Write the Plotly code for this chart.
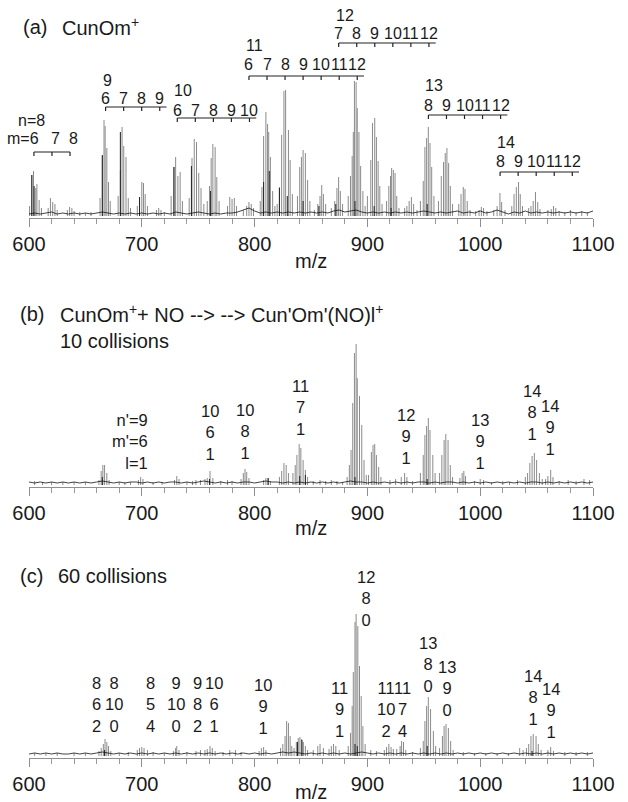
import plotly.graph_objects as go

# ---------------- DATA ----------------
# Panel (a): CunOm+ mass spectrum (grey sticks), m/z and relative intensity
a_mz = [600.5, 602.5, 604, 606, 607, 609, 611,
        617, 619, 621, 623, 625, 634, 636, 638, 640, 645, 650, 655,
        663, 665, 666.5, 667.5, 669, 670.5, 672,
        679, 681, 682.5, 684, 686, 688, 690,
        696, 698, 700, 701.5, 703, 705, 713, 715, 717, 720,
        726, 728.5, 730, 732, 734, 736,
        742, 744.5, 746.5, 748.5, 750.5, 752.5, 755,
        758, 760, 761.5, 763, 765, 766.5, 768.5,
        776, 778, 780, 782, 784, 790, 793, 795, 797, 799,
        805, 806.5, 808, 810, 811.5, 812.5, 814, 816, 818,
        820, 822, 824, 826, 827.5, 830, 831.5, 833.5,
        838, 840, 841.5, 843, 845, 847, 849,
        853, 856, 858, 859.5, 861, 863,
        868, 871, 873, 874.5, 876, 878,
        883, 885, 886.5, 887.5, 888.5, 890, 891, 892.5, 894, 896, 898,
        900, 903, 904.5, 906.5, 908, 909.5, 911, 913,
        917, 919, 920.5, 921.5, 923, 924.5, 926, 928,
        933, 935, 937, 939, 941, 944,
        947, 949.5, 951, 952.5, 954, 955.5, 957, 959,
        963, 965.5, 967.5, 969, 970.5, 972, 973.5, 975.5,
        981, 983, 985, 986.5, 988.5, 991,
        996, 999, 1001, 1003, 1006,
        1012, 1015, 1017.5, 1019, 1022,
        1028, 1030, 1032, 1034, 1035.5, 1037.5,
        1043, 1045, 1047, 1049, 1051, 1053,
        1060, 1063, 1065, 1067, 1070, 1075, 1080, 1085, 1090, 1095]
a_int = [10, 41, 45, 28, 32, 16, 8,
         8, 18, 14, 12, 6, 6, 9, 8, 5, 4, 3, 4,
         18, 60, 96, 90, 68, 34, 15,
         20, 46, 89, 70, 59, 18, 8,
         10, 19, 34, 33, 22, 10, 6, 8, 6, 4,
         20, 49, 59, 40, 44, 15,
         18, 58, 77, 74, 43, 28, 12,
         15, 30, 58, 72, 69, 39, 15,
         10, 19, 17, 18, 10, 6, 10, 14, 12, 8,
         15, 29, 80, 104, 92, 84, 59, 25, 10,
         12, 29, 81, 125, 126, 86, 56, 22,
         20, 49, 59, 66, 63, 36, 15,
         6, 12, 20, 31, 22, 12,
         8, 15, 28, 39, 25, 12,
         20, 40, 60, 84, 135, 134, 108, 84, 50, 25, 10,
         20, 56, 93, 98, 79, 55, 30, 12,
         15, 30, 40, 48, 46, 43, 20, 8,
         8, 10, 15, 19, 12, 6,
         15, 35, 69, 78, 89, 73, 49, 20,
         15, 40, 54, 63, 68, 53, 30, 12,
         12, 22, 29, 27, 15, 6,
         5, 6, 9, 8, 5,
         6, 10, 23, 14, 6,
         10, 22, 29, 34, 22, 10,
         8, 10, 15, 24, 14, 7,
         6, 7, 10, 8, 5, 4, 6, 4, 5, 4]
# black (second) spectrum sticks in panel (a)
a_blk_mz = [602.5, 604.5, 665, 681, 698, 728.5, 744, 761, 808, 813, 822, 829, 843, 857, 872, 889, 906, 921, 953]
a_blk_int = [41, 30, 61, 84, 19, 49, 50, 25, 34, 45, 28, 20, 15, 10, 12, 15, 10, 8, 12]

# Panel (b): 10 collisions
b_mz = [605, 612, 620, 630, 640, 650,
        662, 664, 665.5, 667, 669, 671, 680, 685, 690,
        697, 699, 701, 710, 718, 729, 731, 733, 740,
        745, 748, 752, 756, 758, 760.5, 763, 770, 776, 780,
        788, 790, 791.5, 793, 795, 808, 810, 812, 814,
        822, 824, 826, 828, 830,
        834, 836, 837.5, 839.5, 841, 843, 845, 847,
        852, 858, 863, 868, 873, 878,
        882, 884, 885.5, 887, 888.5, 890, 891, 893, 895, 897, 899,
        901, 903.5, 905, 906.5, 908, 910, 912,
        920, 925, 930, 933, 935, 940,
        947, 949.5, 951, 952.5, 954, 955.5, 958, 960,
        964, 966, 968, 969.5, 971.5, 973.5, 975.5,
        982, 984, 985.5, 987,
        995, 1000, 1003, 1010, 1020, 1026, 1033,
        1040, 1042, 1044, 1046, 1048, 1050, 1052.5, 1055,
        1058, 1060, 1062.5, 1064.5,
        1070, 1078, 1085, 1092, 1097]
b_int = [4, 3, 3, 3, 3, 3,
         5, 14, 20, 20, 12, 5, 3, 3, 3,
         5, 8, 6, 3, 3, 5, 9, 6, 3,
         4, 5, 5, 6, 7, 14, 7, 4, 5, 4,
         6, 12, 16, 13, 7, 5, 7, 7, 4,
         8, 14, 22, 20, 12,
         12, 20, 30, 41, 37, 25, 15, 8,
         4, 5, 4, 5, 4, 3,
         8, 20, 35, 82, 132, 141, 107, 89, 60, 25, 10,
         10, 33, 40, 41, 30, 18, 8,
         5, 6, 8, 12, 8, 4,
         12, 30, 50, 59, 67, 55, 30, 12,
         12, 30, 45, 51, 45, 20, 8,
         7, 12, 14, 9,
         4, 6, 5, 3, 4, 3, 5,
         8, 12, 22, 29, 32, 25, 12, 6,
         6, 9, 15, 8,
         4, 5, 4, 6, 5]
b_blk_mz = [665, 760, 812, 840, 845, 889, 953]
b_blk_int = [8, 6, 7, 9, 10, 8, 6]

# Panel (c): 60 collisions
c_mz = [605, 615, 625, 640, 650,
        662, 664, 665.9, 667.4, 669, 670.5, 672.5, 680, 688,
        696, 698, 700, 702, 705, 710,
        720, 728, 730, 731, 733,
        740, 748, 752, 756, 758, 760.5, 762.5, 765,
        772, 778, 783, 788, 804, 806, 808, 810,
        823, 825, 827, 828.4, 830, 831.5, 833,
        835, 837, 838.7, 840.2, 841.7, 843.2, 845, 847,
        852, 856, 858, 861, 866, 868, 870, 872, 875,
        883, 885, 886.5, 887.5, 889, 890, 891.5, 893, 894.5, 896, 898,
        903, 908, 915, 917, 919, 921, 923,
        926, 929, 930.3, 932, 934, 940,
        947, 949.5, 951, 952.5, 954, 956, 958.5, 960.5,
        964, 966.5, 968, 969.7, 971.8, 973.8, 976,
        985, 995, 1005, 1015, 1025,
        1035, 1038, 1041, 1043, 1045, 1047, 1049.5, 1051.5, 1054,
        1060, 1062.5, 1065, 1075, 1085, 1095]
c_int = [3, 3, 3, 3, 3,
         5, 8, 12, 17, 14, 10, 5, 3, 4,
         6, 8, 9, 8, 6, 4,
         3, 5, 8, 10, 6,
         4, 5, 6, 6, 7, 10, 8, 5,
         4, 6, 6, 4, 5, 8, 9, 6,
         8, 12, 20, 35, 33, 20, 10,
         8, 14, 18, 19, 17, 14, 10, 6,
         6, 10, 12, 8, 7, 10, 12, 10, 6,
         10, 23, 50, 84, 134, 142, 130, 90, 60, 30, 12,
         6, 5, 6, 9, 12, 9, 7,
         7, 10, 15, 14, 6, 4,
         8, 15, 35, 50, 59, 47, 25, 10,
         8, 20, 30, 32, 28, 15, 6,
         4, 3, 3, 3, 3,
         8, 6, 8, 12, 20, 22, 20, 12, 6,
         6, 9, 5, 4, 4, 4]
c_blk_mz = [667, 838, 842, 889, 891, 953, 1046]
c_blk_int = [6, 14, 16, 12, 10, 10, 5]

# Baseline noise (black trace), sampled every 5 m/z from 600 to 1100
noise_mz0, noise_step = 600, 5
a_noise = [2, 3, 2, 3, 4, 2, 3, 2, 3, 2, 3, 2, 3, 4, 3, 2, 3, 2, 3, 2,
           3, 2, 3, 2, 3, 2, 4, 3, 2, 3, 4, 3, 2, 3, 2, 3, 3, 4, 6, 8,
           5, 3, 4, 3, 4, 3, 4, 3, 4, 3, 4, 3, 4, 3, 5, 6, 4, 5, 6, 4,
           3, 4, 3, 4, 3, 4, 3, 4, 3, 4, 5, 4, 3, 4, 3, 4, 5, 3, 4, 3,
           5, 3, 4, 6, 4, 2, 4, 3, 5, 3, 4, 3, 4, 3, 4, 3, 4, 3, 4, 3, 5]
b_noise = [3, 2, 3, 2, 3, 2, 3, 2, 3, 2, 3, 2, 3, 4, 3, 2, 3, 2, 3, 3,
           2, 3, 2, 3, 2, 3, 3, 2, 3, 2, 3, 4, 3, 2, 3, 2, 3, 2, 3, 3,
           2, 3, 4, 3, 3, 2, 3, 2, 3, 2, 3, 2, 3, 2, 3, 2, 3, 4, 3, 3,
           2, 3, 2, 3, 2, 3, 2, 3, 2, 3, 3, 2, 3, 2, 3, 3, 2, 3, 2, 3,
           2, 3, 2, 3, 2, 3, 2, 3, 2, 3, 3, 2, 3, 2, 3, 2, 3, 2, 3, 2, 3]
c_noise = [2, 3, 2, 3, 2, 3, 2, 2, 3, 2, 3, 2, 3, 4, 3, 2, 3, 2, 3, 2,
           3, 2, 3, 2, 3, 2, 3, 2, 3, 2, 3, 2, 3, 2, 3, 2, 3, 2, 3, 2,
           3, 2, 3, 2, 3, 4, 3, 4, 3, 2, 3, 2, 3, 2, 3, 2, 3, 2, 3, 4,
           3, 2, 3, 2, 3, 2, 3, 2, 3, 2, 3, 2, 3, 2, 3, 2, 3, 2, 3, 2,
           3, 2, 3, 2, 3, 2, 3, 2, 3, 2, 3, 2, 3, 2, 3, 2, 3, 2, 3, 2, 3]

# Axis ticks
x_ticks = [600, 700, 800, 900, 1000, 1100]
x_tick_labels = ["600", "700", "800", "900", "1000", "1100"]

# Panel (a) cluster assignments CunOm+
a_groups_n = [8, 9, 10, 11, 12, 13, 14]
a_groups_m = [[6, 7, 8], [6, 7, 8, 9], [6, 7, 8, 9, 10], [6, 7, 8, 9, 10, 11, 12],
              [7, 8, 9, 10, 11, 12], [8, 9, 10, 11, 12], [8, 9, 10, 11, 12]]
# Panel (b) labels n', m', l  (m/z of label)
b_labels = [("10", "6", "1", 760.5), ("10", "8", "1", 791.5), ("11", "7", "1", 841),
            ("12", "9", "1", 934), ("13", "9", "1", 1000), ("14", "8", "1", 1046),
            ("14", "9", "1", 1062)]
# Panel (c) labels n', m', l
c_labels = [("8", "6", "2", 659.4), ("8", "10", "0", 675.4), ("8", "5", "4", 707.3),
            ("9", "10", "0", 730.3), ("9", "8", "2", 749.8), ("10", "6", "1", 764),
            ("10", "9", "1", 807), ("11", "9", "1", 875.7), ("11", "10", "2", 916.5),
            ("11", "7", "4", 930.7), ("12", "8", "0", 898.8), ("13", "8", "0", 953.7),
            ("13", "9", "0", 970.6), ("14", "8", "1", 1046.4), ("14", "9", "1", 1063.2)]

CU, OX = 63.546, 15.999  # average atomic masses

# ---------------- LAYOUT HELPERS (pixel positions) ----------------
W, H = 628, 802
FONT = "Liberation Sans, Arial, Helvetica, sans-serif"
TXT = "#1a1a1a"
GREY = "#8a8a8a"
GF = 16  # group label font in panel (a)


def py(p):
    return 1 - p / H


def pxp(p):
    return p / W


# panel y-axis domains in px (bottom = axis line) ; zero sits 2 px above axis
panels = [dict(top=5, bot=218), dict(top=270, bot=487), dict(top=540, bot=758)]

# label vertical pixel positions
a_label_px = [(120, 138, 152), (80, 98, 107), (90, 111, 118), (46, 64, 76),
              (15, 33, 43), (85, 105, 115), (143, 162, 172)]
b_label_mid_px = [433, 431, 407, 436, 441, 412, 427]
c_label_mid_px = [704, 704, 704, 704, 704, 704, 706, 709, 709, 709, 598, 664, 688, 697, 710]

fig = go.Figure()


def sticks(mz, inten, color, width, xa, ya):
    xs, ys = [], []
    for m, h in zip(mz, inten):
        xs += [m, m, None]
        ys += [0, h, None]
    fig.add_trace(go.Scatter(x=xs, y=ys, mode="lines", line=dict(color=color, width=width),
                             xaxis=xa, yaxis=ya, hoverinfo="skip", showlegend=False))


def noise(vals, xa, ya):
    xs = [noise_mz0 + i * noise_step for i in range(len(vals))]
    fig.add_trace(go.Scatter(x=xs, y=vals, mode="lines", line=dict(color="#111111", width=0.8),
                             xaxis=xa, yaxis=ya, hoverinfo="skip", showlegend=False))


sticks(a_mz, a_int, GREY, 1, "x", "y")
sticks(a_blk_mz, a_blk_int, "#222222", 1, "x", "y")
noise(a_noise, "x", "y")
sticks(b_mz, b_int, GREY, 1, "x2", "y2")
sticks(b_blk_mz, b_blk_int, "#222222", 1, "x2", "y2")
noise(b_noise, "x2", "y2")
sticks(c_mz, c_int, GREY, 1, "x3", "y3")
sticks(c_blk_mz, c_blk_int, "#222222", 1, "x3", "y3")
noise(c_noise, "x3", "y3")

ann = []

# ---- panel (a) brackets & labels ----
zero_a = panels[0]["bot"] - 2
bx, byy = [], []
for n, ms, (pn, pm, pb) in zip(a_groups_n, a_groups_m, a_label_px):
    pos = [n * CU + m * OX for m in ms]
    yb = zero_a - pb
    bx += [pos[0], pos[-1] + (0 if n == 8 else 6), None]
    byy += [yb, yb, None]
    for p in pos:
        bx += [p, p, None]
        byy += [yb, yb - 4, None]
    for i, (m, p) in enumerate(zip(ms, pos)):
        if n == 8:
            if i == 0:
                ann.append(dict(x=p + 6, y=py(pm), xref="x", yref="paper", text="m=" + str(m),
                                xanchor="right", yanchor="middle", showarrow=False,
                                font=dict(size=GF, family=FONT, color=TXT)))
            else:
                ann.append(dict(x=p + 3.5, y=py(pm), xref="x", yref="paper", text=str(m),
                                xanchor="center", yanchor="middle", showarrow=False,
                                font=dict(size=GF, family=FONT, color=TXT)))
        else:
            ann.append(dict(x=p, y=py(pm), xref="x", yref="paper", text=str(m),
                            xanchor="center", yanchor="middle", showarrow=False,
                            font=dict(size=GF, family=FONT, color=TXT)))
    if n == 8:
        ann.append(dict(x=pos[0] + 12, y=py(pn), xref="x", yref="paper", text="n=" + str(n),
                        xanchor="right", yanchor="middle", showarrow=False,
                        font=dict(size=GF, family=FONT, color=TXT)))
    else:
        ann.append(dict(x=pos[0] - 4.5, y=py(pn), xref="x", yref="paper", text=str(n),
                        xanchor="left", yanchor="middle", showarrow=False,
                        font=dict(size=GF, family=FONT, color=TXT)))
fig.add_trace(go.Scatter(x=bx, y=byy, mode="lines", line=dict(color="#222222", width=1.2),
                         xaxis="x", yaxis="y", hoverinfo="skip", showlegend=False))

# ---- panel (b) / (c) stacked labels ----
LBL = 16.5
ann.append(dict(x=707.3, y=py(441), xref="x2", yref="paper", text="n'=9<br>m'=6<br>l=1",
                xanchor="right", yanchor="middle", align="right", showarrow=False,
                font=dict(size=LBL, family=FONT, color=TXT)))
for (a1, a2, a3, xm), mid in zip(b_labels, b_label_mid_px):
    ann.append(dict(x=xm, y=py(mid), xref="x2", yref="paper", text=f"{a1}<br>{a2}<br>{a3}",
                    xanchor="center", yanchor="middle", align="center", showarrow=False,
                    font=dict(size=LBL, family=FONT, color=TXT)))
for (a1, a2, a3, xm), mid in zip(c_labels, c_label_mid_px):
    ann.append(dict(x=xm, y=py(mid), xref="x3", yref="paper", text=f"{a1}<br>{a2}<br>{a3}",
                    xanchor="center", yanchor="middle", align="center", showarrow=False,
                    font=dict(size=LBL, family=FONT, color=TXT)))

# ---- titles ----
TF = 20
titles = [("(a)", 21, 27), ("CunOm<sup>+</sup>", 60, 27),
          ("(b)", 18, 314), ("CunOm<sup>+</sup>+ NO --> --> Cun'Om'(NO)l<sup>+</sup>", 58, 314),
          ("10 collisions", 58, 341),
          ("(c)", 18, 576), ("60 collisions", 56, 576)]
for t, xp, yp in titles:
    ann.append(dict(x=pxp(xp), y=py(yp), xref="paper", yref="paper", text=t,
                    xanchor="left", yanchor="middle", showarrow=False,
                    font=dict(size=TF, family=FONT, color=TXT)))
for yp in [261, 528, 792]:
    ann.append(dict(x=pxp(311), y=py(yp), xref="paper", yref="paper", text="m/z",
                    xanchor="center", yanchor="middle", showarrow=False,
                    font=dict(size=20, family=FONT, color=TXT)))

xcommon = dict(range=[600, 1100], domain=[pxp(29), pxp(593)], showline=True, linecolor="#8f8f8f",
               linewidth=1, ticks="outside", ticklen=8, tickwidth=1, tickcolor="#8f8f8f",
               tickvals=x_ticks, ticktext=x_tick_labels, showgrid=False, zeroline=False,
               automargin=False,
               tickfont=dict(size=20, family=FONT, color=TXT),
               minor=dict(dtick=20, tick0=600, ticks="outside", ticklen=5, tickcolor="#9a9a9a",
                          tickwidth=1, showgrid=False))
ycommon = dict(visible=False, showgrid=False, zeroline=False, automargin=False)

layout = dict(template="none", width=W, height=H, margin=dict(l=0, r=0, t=0, b=0, pad=0),
              autosize=False, paper_bgcolor="white", plot_bgcolor="white", showlegend=False,
              annotations=ann)
for i, pnl in enumerate(panels):
    sfx = "" if i == 0 else str(i + 1)
    layout["xaxis" + sfx] = dict(xcommon, anchor="y" + sfx)
    hpx = pnl["bot"] - pnl["top"]
    layout["yaxis" + sfx] = dict(ycommon, domain=[py(pnl["bot"]), py(pnl["top"])],
                                 range=[-2, hpx - 2], anchor="x" + sfx)
fig.update_layout(**layout)
fig.write_html("out.html", config={"displayModeBar": False},
               post_script="document.body.style.margin='0px';document.body.style.overflow='hidden';")
